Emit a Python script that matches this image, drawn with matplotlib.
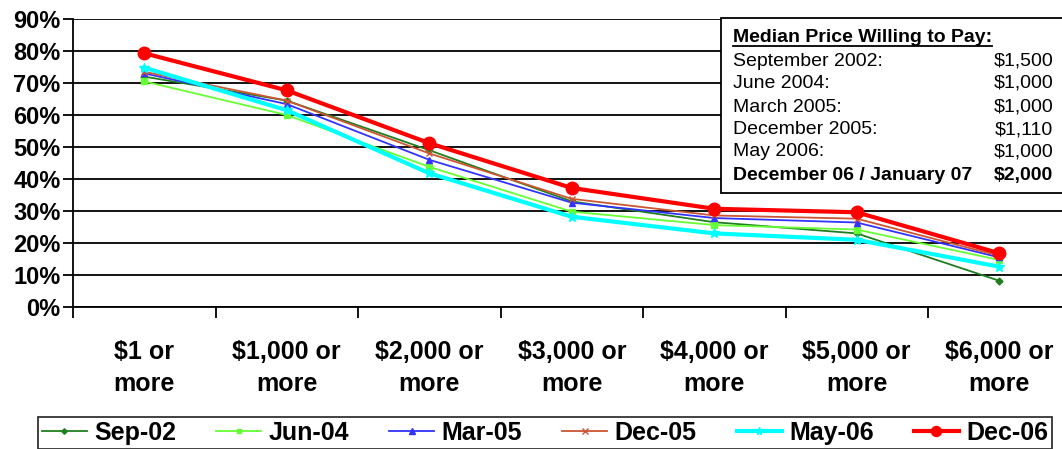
import matplotlib
matplotlib.use("Agg")
import matplotlib.pyplot as plt
from matplotlib.patches import Rectangle
from matplotlib.lines import Line2D
import numpy as np

plt.rcParams['font.family'] = ['Liberation Sans', 'DejaVu Sans']

categories = ["\\$1 or\nmore", "\\$1,000 or\nmore", "\\$2,000 or\nmore", "\\$3,000 or\nmore",
              "\\$4,000 or\nmore", "\\$5,000 or\nmore", "\\$6,000 or\nmore"]

sep02 = [72.0, 64.5, 49.0, 33.0, 26.5, 23.0, 8.2]
jun04 = [70.5, 60.0, 43.8, 29.8, 25.6, 24.2, 14.7]
mar05 = [73.0, 63.4, 46.0, 32.6, 27.8, 26.4, 15.5]
dec05 = [73.5, 64.5, 48.0, 33.8, 28.6, 27.6, 16.0]
may06 = [74.8, 61.5, 41.8, 28.2, 23.0, 21.0, 12.6]
dec06 = [79.3, 67.7, 51.2, 37.2, 30.7, 29.6, 16.8]

series_names = ["Sep-02", "Jun-04", "Mar-05", "Dec-05", "May-06", "Dec-06"]

box_title = "Median Price Willing to Pay:"
box_labels = ["September 2002:", "June 2004:", "March 2005:", "December 2005:",
              "May 2006:", "December 06 / January 07"]
box_values = ["\\$1,500", "\\$1,000", "\\$1,000", "\\$1,110", "\\$1,000", "\\$2,000"]

W, H = 1062, 449
fig = plt.figure(figsize=(W / 100, H / 100), dpi=100)
ax = fig.add_axes([73 / W, 1 - 307 / H, (W - 73) / W, 288 / H])

x = np.arange(len(categories))
styles = [
    (sep02, "#1f7f1f", "D", 3.5, 1.3),
    (jun04, "#66ff33", "s", 4, 1.3),
    (mar05, "#3333ff", "^", 5, 1.3),
    (dec05, "#cc5533", "x", 5, 1.3),
    (may06, "#00ffff", "*", 7, 3.0),
    (dec06, "#ff0000", "o", 9, 3.0),
]
for (vals, col, mk, ms, lw), name in zip(styles, series_names):
    ax.plot(x, np.array(vals) / 100, color=col, marker=mk, markersize=ms,
            linewidth=lw, label=name, markeredgecolor=col, clip_on=False)

ax.set_ylim(0, 0.9)
ax.set_xlim(-0.5, -0.5 + (W - 73) / 142.5)
ax.set_yticks(np.arange(0, 0.91, 0.1))
ax.set_yticklabels(["%d%%" % v for v in range(0, 91, 10)], fontsize=17, fontweight="bold")
ax.yaxis.grid(True, color="black", linewidth=1.3)
ax.set_axisbelow(True)

ax.set_xticks(np.arange(-0.5, 6.0, 1.0))
ax.set_xticklabels([])
ax.set_xticks(x, minor=True)
ax.set_xticklabels(categories, minor=True, fontsize=18, fontweight="bold", linespacing=1.4)
ax.tick_params(axis="x", which="minor", length=0, pad=24)
ax.tick_params(axis="x", which="major", length=8, width=1.3, direction="out")
ax.tick_params(axis="y", length=7, width=1.3, direction="out", pad=2)

for s in ["top", "right"]:
    ax.spines[s].set_visible(False)
ax.spines["left"].set_linewidth(1.3)
ax.spines["bottom"].set_linewidth(1.3)

# price box
box = Rectangle((721 / W, 1 - 193 / H), (W - 721 + 5) / W, 175 / H, transform=fig.transFigure,
                facecolor="white", edgecolor="black", linewidth=1.3, zorder=10)
fig.add_artist(box)
rows_y = [38, 61, 83, 107, 130, 152, 176]
t = fig.text(733 / W, 1 - rows_y[0] / H, box_title, fontsize=14, fontweight="bold",
             va="center", ha="left", zorder=11)
for i, (lab, val) in enumerate(zip(box_labels, box_values)):
    fw = "bold" if i == len(box_labels) - 1 else "normal"
    yy = 1 - rows_y[i + 1] / H
    fig.text(733 / W, yy, lab, fontsize=14, fontweight=fw, va="center", ha="left", zorder=11)
    fig.text(1053 / W, yy, val, fontsize=14, fontweight=fw, va="center", ha="right", zorder=11)

# underline the box title
fig.canvas.draw()
bb = t.get_window_extent().transformed(fig.transFigure.inverted())
fig.add_artist(Line2D([bb.x0, bb.x1], [bb.y0 + 0.002, bb.y0 + 0.002], transform=fig.transFigure,
                      color="black", linewidth=1.3, zorder=11))

leg = fig.legend(loc="upper left", bbox_to_anchor=(38 / W, 0, (1052 - 38) / W, 1 - 417 / H),
                 mode="expand", ncol=6, frameon=True, fancybox=False, edgecolor="black",
                 prop={"weight": "bold", "size": 18},
                 handlelength=1.8, handletextpad=0.3, borderaxespad=0, borderpad=0.15,
                 markerscale=0.8)
leg.get_frame().set_linewidth(1.3)

fig.savefig("out.png", dpi=100)
